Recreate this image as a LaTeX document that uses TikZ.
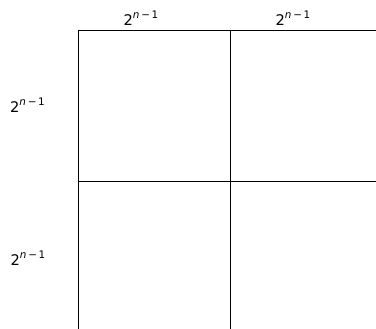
\documentclass[tikz,border=0pt]{standalone}
\usepackage{fontspec}
\setmainfont{DejaVu Sans}
\newcommand{\pw}{2\raisebox{5pt}{\fontsize{7.8}{8}\selectfont\itshape n\upshape\,−\,1}}
\begin{document}
\begin{tikzpicture}[x=0.75pt,y=-0.75pt,
  lab/.style={font=\fontsize{11}{12}\selectfont, inner sep=0pt},
  gridline/.style={line width=0.7pt, black}]
\useasboundingbox (0,0) rectangle (376,329);
\begin{scope}
\clip (0,0) rectangle (376,329);
\coordinate (tl) at (78.5,30);
\coordinate (tm) at (230.5,30);
\coordinate (tr) at (382.5,30);
\coordinate (ml) at (78.5,181.5);
\coordinate (mr) at (382.5,181.5);
\coordinate (bl) at (78.5,334);
\coordinate (bm) at (230.5,334);
\draw[gridline] (tr) -- (tl) -- (bl);
\draw[gridline] (tm) -- (bm);
\draw[gridline] (ml) -- (mr);
\end{scope}
\node[lab] (t1) at (141,18) {\pw};
\node[lab] (t2) at (293,18) {\pw};
\node[lab] (l1) at (27.5,105) {\pw};
\node[lab] (l2) at (28,258) {\pw};
\end{tikzpicture}
\end{document}
